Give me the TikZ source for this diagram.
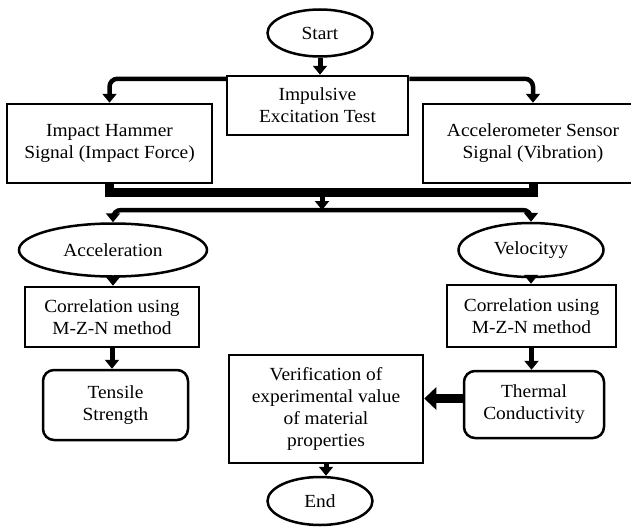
\documentclass[tikz,border=0pt]{standalone}
\usepackage{fontspec}
\setmainfont{Liberation Serif}[FakeStretch=1.05]
\usetikzlibrary{shapes.geometric,arrows.meta}
\begin{document}
\begin{tikzpicture}[x=1pt,y=-1pt,
  every node/.style={font=\fontsize{18.5}{22}\selectfont, align=center, inner sep=0pt},
  box/.style={draw, line width=2.5pt, rectangle},
  rbox/.style={box, rounded corners=11pt},
  oval/.style={draw, ellipse, line width=2.5pt},
  arr/.style={line width=5pt, -{Triangle[width=14pt,length=9pt]}},
  flowarr/.style={line width=4.5pt, rounded corners=8pt, -{Triangle[width=14pt,length=9pt]}},
  barline/.style={line width=9pt},
  bigarr/.style={line width=9pt, -{Triangle[width=22pt,length=12pt]}}]
\useasboundingbox (0,0) rectangle (631,527);

\node[oval, minimum width=105pt, minimum height=47pt] (start) at (320,33) {Start};
\node[box, minimum width=181pt, minimum height=59pt] (imp) at (317.5,105.5) {Impulsive\\Excitation Test};
\node[box, minimum width=205pt, minimum height=79pt] (ham) at (109.5,143.5) {Impact Hammer\\Signal (Impact Force)};
\node[box, minimum width=220pt, minimum height=79pt] (acc) at (533,143.5) {Accelerometer Sensor\\Signal (Vibration)};
\node[oval, minimum width=188pt, minimum height=53pt] (accel) at (113,250) {Acceleration};
\node[oval, minimum width=145pt, minimum height=54pt] (velo) at (531,250) {Velocityy};
\node[box, minimum width=174pt, minimum height=60pt] (corrL) at (112,317) {Correlation using\\M-Z-N method};
\node[box, minimum width=169pt, minimum height=62pt] (corrR) at (531.5,316) {Correlation using\\M-Z-N method};
\node[rbox, minimum width=145pt, minimum height=70pt] (tens) at (115.5,405) {Tensile\\Strength};
\node[rbox, minimum width=140pt, minimum height=67pt] (therm) at (534,404.5) {Thermal\\Conductivity};
\node[box, minimum width=194pt, minimum height=108pt] (verif) at (326,409) {Verification of\\experimental value\\of material\\properties};
\node[oval, minimum width=105pt, minimum height=48pt] (end) at (320,501) {End};

\coordinate (barmid) at (322,192);
\coordinate (split) at (322,210);

\draw[arr] (start.south) -- (start.south |- imp.north);
\draw[flowarr] ([yshift=-4pt]imp.north west) -| (ham.north);
\draw[flowarr] ([yshift=-4pt]imp.north east) -| (acc.north);
\draw[barline] (ham.south) |- (barmid) -| (acc.south);
\draw[arr] (barmid) -- (split);
\draw[flowarr] (split) -| (accel.north);
\draw[flowarr] (split) -| (velo.north);
\draw[arr] (accel.south) -- (accel.south |- corrL.north);
\draw[arr] (velo.south) -- (velo.south |- corrR.north);
\draw[arr] (corrL.south) -- (corrL.south |- tens.north);
\draw[arr] (corrR.south) -- (corrR.south |- therm.north);
\draw[bigarr] ([yshift=6pt]therm.west) -- ([yshift=6pt]therm.west -| verif.east);
\draw[arr] (verif.south) -- (verif.south |- end.north);
\end{tikzpicture}
\end{document}
